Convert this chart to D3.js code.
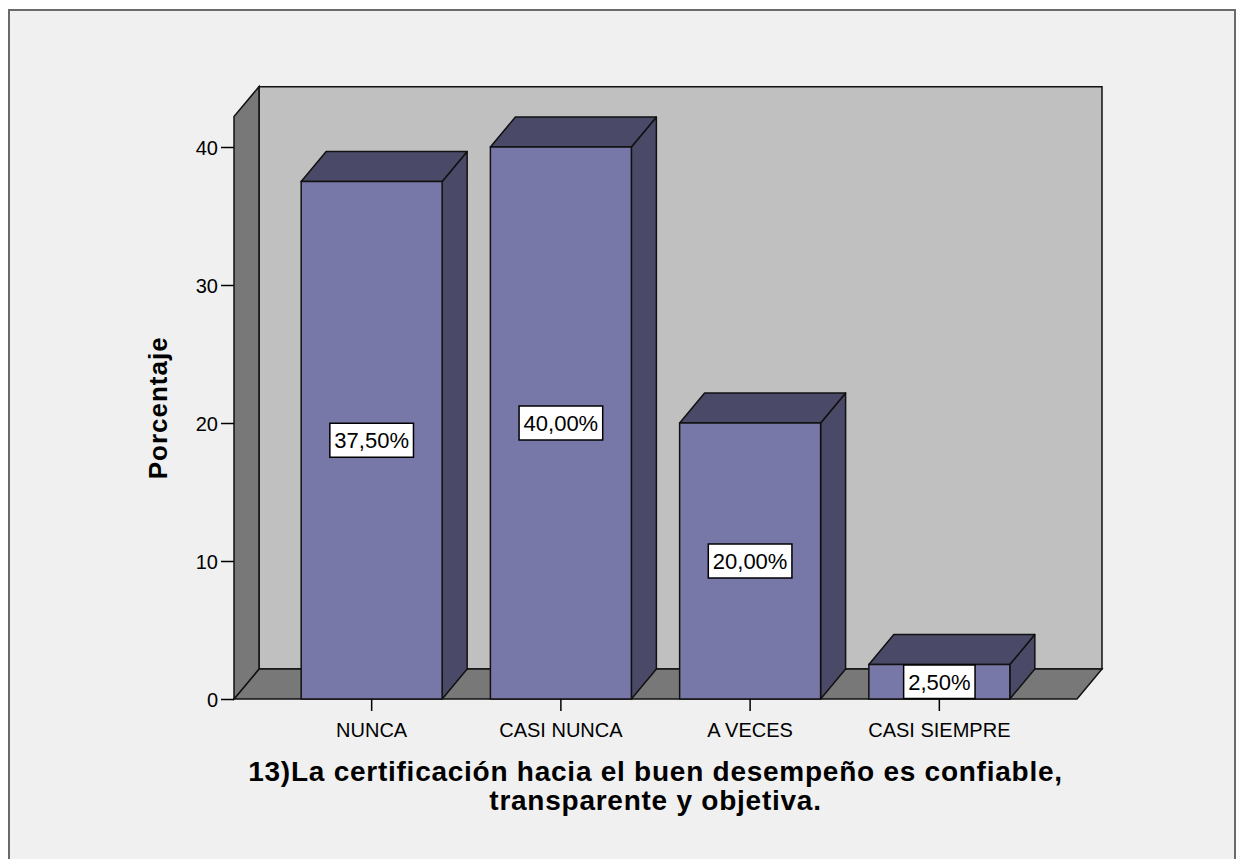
<!DOCTYPE html>
<html>
<head>
<meta charset="utf-8">
<script src="https://cdn.jsdelivr.net/npm/d3@7"></script>
<style>
  html, body { margin: 0; padding: 0; background: #ffffff; }
  svg { display: block; }
  text { font-family: "Liberation Sans", Arial, sans-serif; }
</style>
</head>
<body>
<script>
// ---- data ----
const categories = ["NUNCA", "CASI NUNCA", "A VECES", "CASI SIEMPRE"];
const percentages = [37.5, 40.0, 20.0, 2.5];
const yTicks = [0, 10, 20, 30, 40];
const yAxisMax = 42.2;
const yAxisTitle = "Porcentaje";
const xAxisTitleLines = ["13)La certificación hacia el buen desempeño es confiable,", "transparente y objetiva."];

// ---- layout ----
const W = 1238, H = 859;
const svg = d3.select("body").append("svg").attr("width", W).attr("height", H);

// outer frame
svg.append("rect").attr("x", 9).attr("y", 10).attr("width", 1226).attr("height", 870)
  .attr("fill", "#f0f0f0").attr("stroke", "#6a6a6a").attr("stroke-width", 2);

const x0 = 234, x1 = 1077, yBase = 699;
const depthX = 25, depthY = -30;

const x = d3.scaleBand().domain(categories).range([x0, x1])
  .paddingInner(0.255).paddingOuter(0.355);
const y = d3.scaleLinear().domain([0, 40]).range([yBase, 147]);

const yTop = y(yAxisMax);
const edge = "#111";

// back wall
svg.append("polygon")
  .attr("points", [[x0 + depthX, yBase + depthY], [x1 + depthX, yBase + depthY], [x1 + depthX, yTop + depthY], [x0 + depthX, yTop + depthY]].map(p => p.join(",")).join(" "))
  .attr("fill", "#c0c0c0").attr("stroke", edge).attr("stroke-width", 1.5);
// floor
svg.append("polygon")
  .attr("points", [[x0, yBase], [x1, yBase], [x1 + depthX, yBase + depthY], [x0 + depthX, yBase + depthY]].map(p => p.join(",")).join(" "))
  .attr("fill", "#787878").attr("stroke", edge).attr("stroke-width", 1.5);
// left wall
svg.append("polygon")
  .attr("points", [[x0, yBase], [x0 + depthX, yBase + depthY], [x0 + depthX, yTop + depthY], [x0, yTop]].map(p => p.join(",")).join(" "))
  .attr("fill", "#787878").attr("stroke", edge).attr("stroke-width", 1.5);

// bars
const bw = x.bandwidth();
const bars = svg.append("g");
categories.forEach((c, i) => {
  const v = percentages[i];
  const bx = x(c), by = y(v);
  const g = bars.append("g");
  g.append("polygon")
    .attr("points", [[bx + bw, by], [bx + bw + depthX, by + depthY], [bx + bw + depthX, yBase + depthY], [bx + bw, yBase]].map(p => p.join(",")).join(" "))
    .attr("fill", "#4a4a68").attr("stroke", edge).attr("stroke-width", 1.5).attr("stroke-linejoin", "round");
  g.append("polygon")
    .attr("points", [[bx, by], [bx + depthX, by + depthY], [bx + bw + depthX, by + depthY], [bx + bw, by]].map(p => p.join(",")).join(" "))
    .attr("fill", "#4a4a68").attr("stroke", edge).attr("stroke-width", 1.5).attr("stroke-linejoin", "round");
  g.append("rect")
    .attr("x", bx).attr("y", by).attr("width", bw).attr("height", yBase - by)
    .attr("fill", "#7878a8").attr("stroke", edge).attr("stroke-width", 1.5);
});

// bar labels
const fmt = v => d3.format(".2f")(v).replace(".", ",") + "%";
categories.forEach((c, i) => {
  const v = percentages[i];
  const cx = x(c) + bw / 2;
  const cy = (y(v) + yBase) / 2;
  const g = svg.append("g");
  const t = g.append("text").attr("x", cx).attr("y", cy + 22 * 0.358)
    .attr("text-anchor", "middle").attr("font-size", 22).attr("fill", "#000").text(fmt(v));
  const tw = t.node().getComputedTextLength();
  const bh = Math.min(34, yBase - y(v) - 1);
  g.insert("rect", "text")
    .attr("x", cx - tw / 2 - 4.5).attr("y", cy - bh / 2)
    .attr("width", tw + 9).attr("height", bh)
    .attr("fill", "#ffffff").attr("stroke", "#000").attr("stroke-width", 1.5);
});

// y axis
const yAxis = d3.axisLeft(y).tickValues(yTicks).tickSize(13).tickPadding(3);
const gy = svg.append("g").attr("transform", `translate(${x0},0)`).call(yAxis);
gy.select(".domain").remove();
gy.selectAll(".tick line").attr("stroke", "#000").attr("stroke-width", 1.5);
gy.selectAll(".tick text").attr("font-size", 20).attr("fill", "#000")
  .attr("font-family", "'Liberation Sans', Arial, sans-serif").attr("dy", "0.36em");

// x axis
const xAxis = d3.axisBottom(x).tickSize(12).tickPadding(12);
const gx = svg.append("g").attr("transform", `translate(0,${yBase})`).call(xAxis);
gx.select(".domain").remove();
gx.selectAll(".tick line").attr("stroke", "#000").attr("stroke-width", 1.5);
gx.selectAll(".tick text").attr("font-size", 20).attr("fill", "#000")
  .attr("font-family", "'Liberation Sans', Arial, sans-serif").attr("dy", "0.71em");

// y axis title
svg.append("text")
  .attr("transform", `translate(167,${(yBase + yTop) / 2}) rotate(-90)`)
  .attr("text-anchor", "middle").attr("font-size", 26).attr("font-weight", "bold")
  .attr("letter-spacing", 1).attr("fill", "#000").text(yAxisTitle);

// x axis title
const titleCx = (x0 + x1) / 2;
xAxisTitleLines.forEach((line, i) => {
  svg.append("text")
    .attr("x", titleCx).attr("y", 781 + i * 29)
    .attr("text-anchor", "middle").attr("font-size", 28).attr("font-weight", "bold")
    .attr("letter-spacing", 0.75).attr("fill", "#000").text(line);
});
</script>
</body>
</html>
